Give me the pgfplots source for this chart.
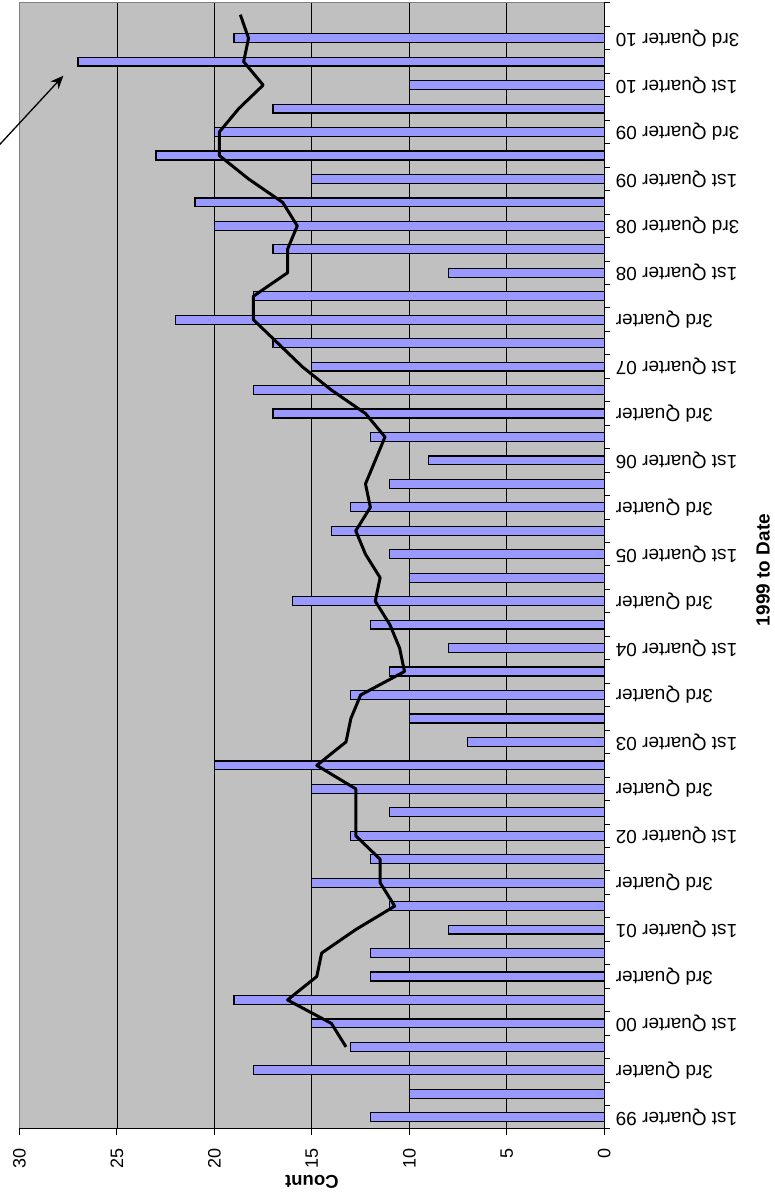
\documentclass[border=0pt]{standalone}
\usepackage{pgfplots}
\pgfplotsset{compat=1.18}
\usepackage{pgfplotstable}
\usepackage{fontspec}
\setmainfont{Liberation Sans}
\usetikzlibrary{arrows.meta}
\definecolor{bgGray}{HTML}{C0C0C0}
\definecolor{barBlue}{HTML}{9999FF}
\definecolor{frameGray}{HTML}{808080}

\pgfplotstableread{
i v
0 12
1 10
2 18
3 13
4 15
5 19
6 12
7 12
8 8
9 11
10 15
11 12
12 13
13 11
14 15
15 20
16 7
17 10
18 13
19 11
20 8
21 12
22 16
23 10
24 11
25 14
26 13
27 11
28 9
29 12
30 17
31 18
32 15
33 17
34 22
35 18
36 8
37 17
38 20
39 21
40 15
41 23
42 20
43 17
44 10
45 27
46 19
}\bars

\pgfplotstableread{
i m
3 13.25
4 14
5 16.25
6 14.75
7 14.5
8 12.75
9 10.75
10 11.5
11 11.5
12 12.75
13 12.75
14 12.75
15 14.75
16 13.25
17 13
18 12.5
19 10.25
20 10.5
21 11
22 11.75
23 11.5
24 12.25
25 12.75
26 12
27 12.25
28 11.75
29 11.25
30 12.25
31 14
32 15.5
33 16.75
34 18
35 18
36 16.25
37 16.25
38 15.75
39 16.5
40 18.25
41 19.75
42 19.75
43 18.75
44 17.5
45 18.5
46 18.25
47 18.67
}\mavg

\begin{document}
\begin{tikzpicture}
\useasboundingbox (0,0) rectangle (775bp,1197bp);
\begin{axis}[
  at={(311.9bp,631bp)}, anchor=center,
  scale only axis, width=584.8bp, height=1126bp,
  xmin=0, xmax=30, x dir=reverse,
  ymin=-0.5, ymax=47.5,
  clip=false,
  axis background/.style={fill=bgGray},
  axis line style={draw=none},
  xtick={0,5,...,30},
  xmajorgrids,
  grid style={black, line width=0.9bp},
  tick align=outside,
  major tick length=6bp,
  tick style={black, line width=1bp},
  xtick pos=left,
  ytick pos=right,
  yticklabel pos=right,
  /pgf/number format/assume math mode=true,
  xticklabel shift=10bp,
  xticklabel style={rotate=90, anchor=east, font=\fontsize{18bp}{21bp}\selectfont},
  yticklabel shift=8bp,
  ytick={-0.5,0.5,...,47.5},
  yticklabels={},
  extra y ticks={0,2,...,46},
  extra y tick labels={1st Quarter 99,3rd Quarter,1st Quarter 00,3rd Quarter,1st Quarter 01,3rd Quarter,1st Quarter 02,3rd Quarter,1st Quarter 03,3rd Quarter,1st Quarter 04,3rd Quarter,1st Quarter 05,3rd Quarter,1st Quarter 06,3rd Quarter,1st Quarter 07,3rd Quarter,1st Quarter 08,3rd Quarter 08,1st Quarter 09,3rd Quarter 09,1st Quarter 10,3rd Quarter 10},
  extra y tick style={major tick length=0pt, tick label style={rotate=180, anchor=east, font=\fontsize{19bp}{22bp}\selectfont}},
  xlabel={Count},
  ylabel={1999 to Date},
  every axis x label/.style={at={(axis description cs:0.5,-0.0471)}, anchor=center, rotate=180, font=\bfseries\fontsize{18.5bp}{22bp}\selectfont},
  every axis y label/.style={at={(axis description cs:1.2714,0.4964)}, anchor=center, rotate=90, font=\bfseries\fontsize{19bp}{22bp}\selectfont},
]
\addplot[xbar, bar width=0.38, bar shift=0pt, fill=barBlue, draw=black, line width=1.2bp] table[x=v, y=i] {\bars};
\addplot[black, line width=3bp, line join=round, no marks] table[x=m, y=i] {\mavg};
\draw[frameGray, line width=1bp] (axis cs:30,-0.5) -- (axis cs:30,47.5) -- (axis cs:0,47.5);
\draw[black, line width=1bp] (axis cs:0,47.5) -- (axis cs:0,-0.5) -- (axis cs:30,-0.5);
\draw[black, line width=1.3bp, -{Stealth[length=13bp,width=11bp]}] (axis cs:31.2,41.3) -- (axis cs:27.75,44.4);
\end{axis}
\end{tikzpicture}
\end{document}
